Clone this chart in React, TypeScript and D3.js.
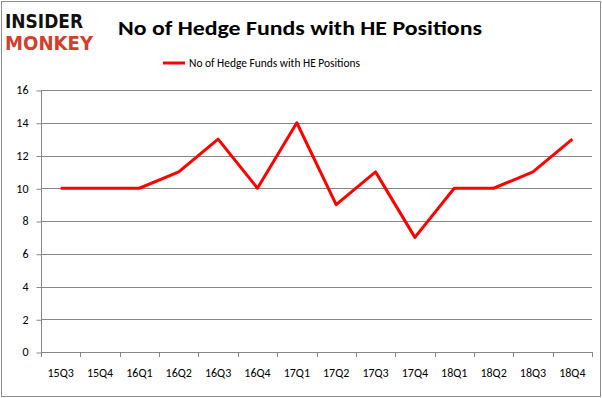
import React, { useEffect, useRef } from 'react';
import * as d3 from 'd3';

const quarters = ['15Q3', '15Q4', '16Q1', '16Q2', '16Q3', '16Q4', '17Q1', '17Q2', '17Q3', '17Q4', '18Q1', '18Q2', '18Q3', '18Q4'];
const funds = [10, 10, 10, 11, 13, 10, 14, 9, 11, 7, 10, 10, 11, 13];
const yTicks = [0, 2, 4, 6, 8, 10, 12, 14, 16];
const seriesName = 'No of Hedge Funds with HE Positions';

const App = () => {
  const svgRef = useRef<SVGSVGElement>(null);

  useEffect(() => {
    const svg = d3.select(svgRef.current);
    svg.selectAll('*').remove();

    const width = 602;
    const height = 398;
    const margin = { top: 90, right: 10, bottom: 46, left: 41 };
    const font = 'Calibri, Carlito, "Liberation Sans", Arial, sans-serif';

    svg.append('rect')
      .attr('x', 1.5).attr('y', 1.5)
      .attr('width', width - 3).attr('height', height - 3)
      .attr('fill', '#fff').attr('stroke', '#8c8c8c');

    // logo
    svg.append('text')
      .attr('x', 5).attr('y', 28)
      .attr('font-family', '"DejaVu Sans", sans-serif').attr('font-weight', 'bold')
      .attr('font-size', 19).attr('textLength', 78).attr('lengthAdjust', 'spacingAndGlyphs')
      .attr('fill', '#111').text('INSIDER');
    svg.append('text')
      .attr('x', 5).attr('y', 50)
      .attr('font-family', '"DejaVu Sans", sans-serif').attr('font-weight', 'bold')
      .attr('font-size', 19).attr('textLength', 88).attr('lengthAdjust', 'spacingAndGlyphs')
      .attr('fill', '#d0402c').text('MONKEY');

    svg.append('text')
      .attr('x', 300).attr('y', 35)
      .attr('text-anchor', 'middle')
      .attr('font-family', font).attr('font-weight', 'bold')
      .attr('font-size', 20).attr('textLength', 364).attr('lengthAdjust', 'spacingAndGlyphs')
      .text(seriesName);

    // legend
    svg.append('line')
      .attr('x1', 163).attr('x2', 185).attr('y1', 63).attr('y2', 63)
      .attr('stroke', 'red').attr('stroke-width', 3);
    svg.append('text')
      .attr('x', 189).attr('y', 67)
      .attr('font-family', font).attr('font-size', 12)
      .attr('textLength', 171).attr('lengthAdjust', 'spacingAndGlyphs')
      .text(seriesName);

    const x = d3.scaleBand()
      .domain(quarters)
      .range([margin.left, width - margin.right]);

    const y = d3.scaleLinear()
      .domain([0, 16])
      .range([height - margin.bottom, margin.top]);

    // gridlines
    svg.append('g')
      .selectAll('line')
      .data(yTicks)
      .join('line')
      .attr('x1', margin.left).attr('x2', width - margin.right)
      .attr('y1', d => Math.round(y(d)) + 0.5).attr('y2', d => Math.round(y(d)) + 0.5)
      .attr('stroke', '#878787');

    const yAxis = svg.append('g')
      .attr('transform', `translate(${margin.left + 0.5},0)`)
      .call(d3.axisLeft(y).tickValues(yTicks).tickSize(5).tickPadding(8).tickFormat(d3.format('d')));
    yAxis.selectAll('line, path').attr('stroke', '#878787');
    yAxis.select('.domain').attr('d', `M0,${margin.top}V${Math.round(y(0))}`);
    yAxis.selectAll('.tick line').attr('transform', 'translate(0,0.5)');
    yAxis.selectAll('text').attr('font-family', font).attr('font-size', 12).attr('fill', '#000');

    const xAxis = svg.append('g')
      .attr('transform', `translate(0,${Math.round(y(0)) + 0.5})`)
      .call(d3.axisBottom(x).tickSize(0).tickPadding(16));
    xAxis.select('.domain').remove();
    xAxis.selectAll('text').attr('font-family', font).attr('font-size', 12).attr('fill', '#000');
    svg.append('g')
      .selectAll('line')
      .data(quarters)
      .join('line')
      .attr('x1', d => Math.round(x(d)!) + 0.5).attr('x2', d => Math.round(x(d)!) + 0.5)
      .attr('y1', Math.round(y(0))).attr('y2', Math.round(y(0)) + 5)
      .attr('stroke', '#878787');
    svg.append('line')
      .attr('x1', width - margin.right + 0.5).attr('x2', width - margin.right + 0.5)
      .attr('y1', Math.round(y(0))).attr('y2', Math.round(y(0)) + 5)
      .attr('stroke', '#878787');

    const line = d3.line<number>()
      .x((_, i) => x(quarters[i])! + x.bandwidth() / 2)
      .y(d => y(d));

    svg.append('path')
      .datum(funds)
      .attr('fill', 'none')
      .attr('stroke', 'red')
      .attr('stroke-width', 3)
      .attr('stroke-linejoin', 'round')
      .attr('d', line);
  }, []);

  return <svg ref={svgRef} width={602} height={398} style={{ position: 'absolute', left: 0, top: 0 }}></svg>;
};

export default App;
